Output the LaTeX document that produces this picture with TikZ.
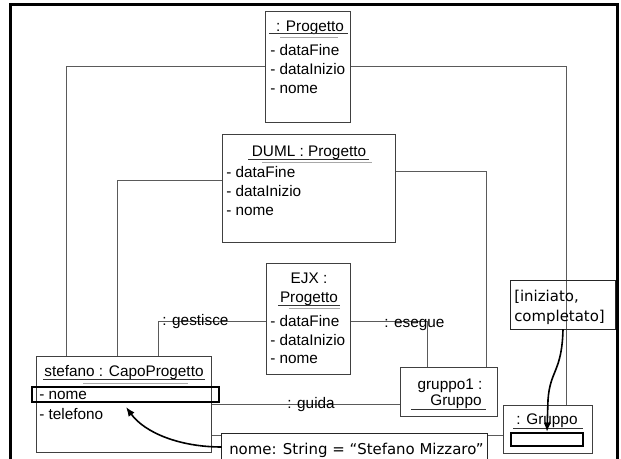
\documentclass[tikz,border=0pt]{standalone}
\usepackage{fontspec}
\setmainfont{Liberation Sans}
\newfontfamily\notefont{DejaVu Sans}
\usetikzlibrary{arrows.meta,fit}

\definecolor{boxgray}{HTML}{404040}
\definecolor{linkgray}{HTML}{5A5A5A}
\definecolor{ulgray}{HTML}{A8A8A8}

\begin{document}
\begin{tikzpicture}[x=0.75pt,y=-0.75pt,
  objbox/.style={draw=boxgray, fill=white, line width=0.8pt, inner sep=0pt},
  notebox/.style={draw=black!85, line width=0.8pt, inner sep=0pt},
  selbox/.style={draw=black, line width=1.6pt, inner sep=0pt},
  link/.style={draw=linkgray, line width=0.75pt},
  uline/.style={draw=black!80, line width=0.75pt},
  ugray/.style={draw=ulgray, line width=0.75pt},
  txt/.style={anchor=base west, inner sep=0pt, font=\fontsize{11.5}{13}\selectfont},
  ctxt/.style={anchor=base, inner sep=0pt, font=\fontsize{11.5}{13}\selectfont},
  ntxt/.style={anchor=base west, inner sep=0pt, font=\notefont\fontsize{11.2}{13}\selectfont},
  arr/.style={draw=black, line width=1.2pt, -{Latex[length=7pt,width=5.5pt]}}
]
\useasboundingbox (0,0) rectangle (621,459);
\clip (0,0) rectangle (621,459);
\fill[white] (0,0) rectangle (621,459);

% outer frame (open at the bottom edge of the page)
\draw[black, line width=1.9pt] (10.5,475) -- (10.5,4.5) -- (617.5,4.5) -- (617.5,475);

% object boxes
\path[use as bounding box=false];
\node[fit={(266,12) (350,122)}, inner sep=0pt] (prog) {};
\node[fit={(223,135) (395,242)}, inner sep=0pt] (duml) {};
\node[fit={(267,264) (350,374)}, inner sep=0pt] (ejx) {};
\node[fit={(37,357) (211,452)}, inner sep=0pt] (stef) {};
\node[fit={(401,368) (497,416)}, inner sep=0pt] (grp1) {};
\node[fit={(504,406) (592,453)}, inner sep=0pt] (grp) {};
\node[fit={(511,281) (615,329)}, inner sep=0pt] (note1) {};
\node[fit={(222,434) (487,475)}, inner sep=0pt] (note2) {};

% links between objects
\draw[link] (prog.west |- 0,67) -| (stef.north -| 66,0);
\draw[link] (prog.east |- 0,67) -| (grp.north -| 566,0);
\draw[link] (duml.west |- 0,181) -| (stef.north -| 117,0);
\draw[link] (duml.east |- 0,172) -| (grp1.north -| 486,0);
\draw[link] (ejx.west |- 0,322) -| (stef.north -| 158,0);
\draw[link] (ejx.east |- 0,322) -| (grp1.north -| 427,0);
\draw[link] (stef.east |- 0,405) -- (grp1.west |- 0,405);
\draw[link] (stef.east |- 0,435) -- (grp.west |- 0,435);

% boxes drawn over the links
\draw[objbox] (prog.north west) rectangle (prog.south east);
\draw[objbox] (duml.north west) rectangle (duml.south east);
\draw[objbox] (ejx.north west) rectangle (ejx.south east);
\draw[objbox] (stef.north west) rectangle (stef.south east);
\draw[objbox] (grp1.north west) rectangle (grp1.south east);
\draw[objbox] (grp.north west) rectangle (grp.south east);
\draw[notebox, fill=white] (note2.north west) rectangle (note2.south east);
\draw[notebox] (note1.north west) rectangle (note1.south east);

% link labels
\node[txt] (lgest) at (162,326) {: gestisce};
\node[txt] (lese) at (384,328) {: esegue};
\node[txt] (lguida) at (287,409) {: guida};

% : Progetto
\node[ctxt] (progt) at (310,32) {: Progetto};
\draw[uline] (269,34) -- (348,34);
\draw[ugray] (280,37.5) -- (338,37.5);
\node[txt] (p1) at (270,56) {- dataFine};
\node[txt] (p2) at (270,75) {- dataInizio};
\node[txt] (p3) at (270,94) {- nome};

% DUML : Progetto
\node[ctxt] (dumlt) at (309,157) {DUML : Progetto};
\draw[uline] (248,159.5) -- (369,159.5);
\draw[ugray] (262,163) -- (372,163);
\node[txt] (d1) at (226,178) {- dataFine};
\node[txt] (d2) at (226,197) {- dataInizio};
\node[txt] (d3) at (226,216) {- nome};

% EJX : Progetto
\node[ctxt] (ejxa) at (309,284) {EJX :};
\node[ctxt] (ejxb) at (309,303) {Progetto};
\draw[uline] (278,306) -- (340,306);
\draw[ugray] (289,308.5) -- (340,308.5);
\node[txt] (e1) at (270,327) {- dataFine};
\node[txt] (e2) at (270,346) {- dataInizio};
\node[txt] (e3) at (270,364) {- nome};

% stefano : CapoProgetto
\node[ctxt] (steft) at (124,377) {stefano : CapoProgetto};
\draw[uline] (43,380) -- (205,380);
\draw[ugray] (83,383.5) -- (188,383.5);
\node[txt] (s1) at (39,400) {- nome};
\node[txt] (s2) at (39,419) {- telefono};

% gruppo1 : Gruppo
\node[ctxt] (g1a) at (450,390) {gruppo1 :};
\node[ctxt] (g1b) at (456,406) {Gruppo};
\draw[uline] (411,410) -- (486,410);

% : Gruppo
\node[ctxt] (gt) at (547,425) {: Gruppo};
\draw[uline] (513,428) -- (583,428);

% notes
\node[ntxt] (n1a) at (514,302) {[iniziato,};
\node[ntxt] (n1b) at (514,322) {completato]};
\node[ntxt] (n2) at (229,454) {nome: String = “Stefano Mizzaro”};

% highlighted slots
\node[selbox, fit={(32,387) (219,402)}] (snome) {};
\node[selbox, fit={(511,433) (583,446)}] (gsel) {};

% annotation arrows
\draw[arr] (note2.west |- 0,447) .. controls (180,447) and (145,433) .. (126,407);
\draw[arr] (note1.south -| 563,0) .. controls (562,372) and (550,370) .. (548,400) -- (547,432);
\end{tikzpicture}
\end{document}
